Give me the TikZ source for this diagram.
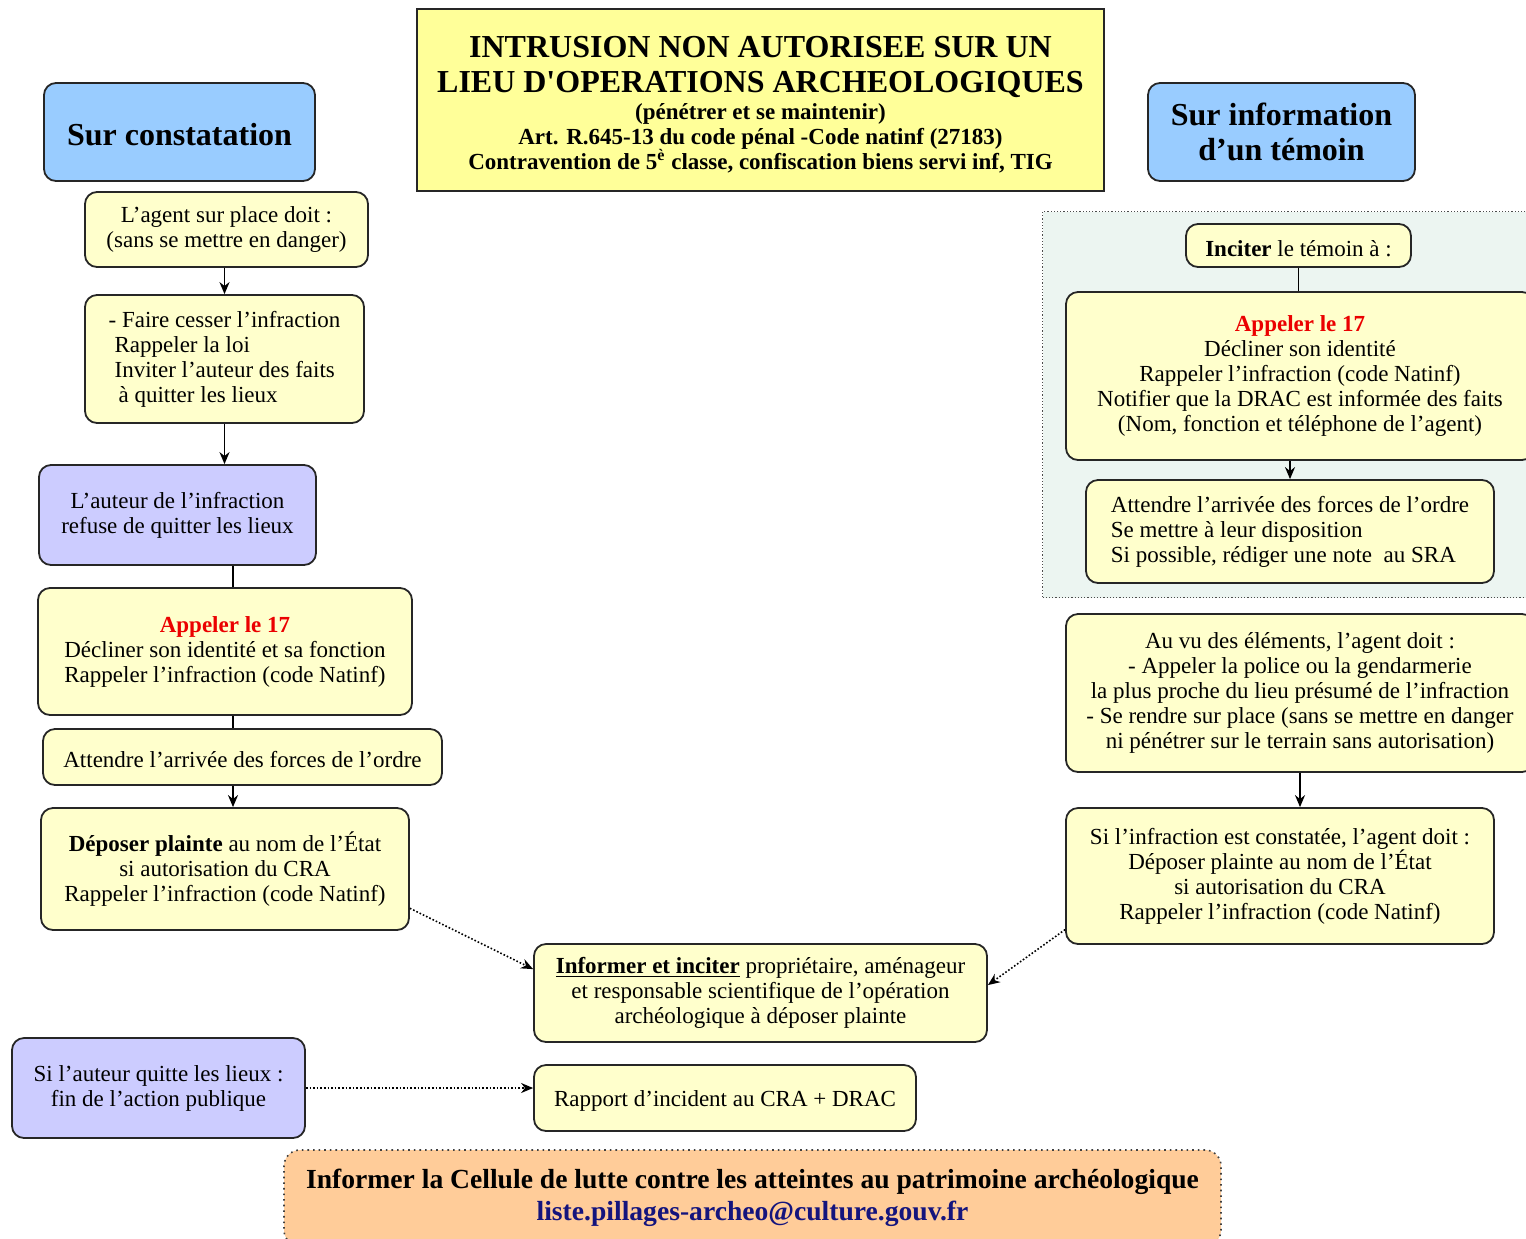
\documentclass[tikz,border=0pt]{standalone}
\usepackage{fontspec}
\setmainfont{Liberation Serif}
\newfontfamily\straightquote{Liberation Serif}
\usetikzlibrary{arrows.meta}

\definecolor{paleyellow}{RGB}{255,255,204}
\definecolor{titleyellow}{RGB}{255,255,153}
\definecolor{skyblue}{RGB}{153,204,255}
\definecolor{lavender}{RGB}{204,204,255}
\definecolor{peach}{RGB}{255,204,153}
\definecolor{mintgrey}{RGB}{236,245,241}
\definecolor{callred}{RGB}{235,0,0}
\definecolor{maildblue}{RGB}{20,20,125}

\begin{document}
\begin{tikzpicture}[x=0.5pt, y=-0.5pt,
    every node/.style={font=\fontsize{11.5}{12.5}\selectfont, align=center, inner sep=0pt,
        execute at begin node={\rule{0pt}{10.8pt}}},
    boxsize/.style 2 args={minimum width=#1*0.5pt, minimum height=#2*0.5pt},
    roundbox/.style={draw=black!85, line width=0.9pt, rounded corners=6pt},
    yellowbox/.style={roundbox, fill=paleyellow},
    bluebox/.style={roundbox, fill=skyblue, font=\fontsize{16}{17.5}\selectfont\bfseries},
    purplebox/.style={roundbox, fill=lavender},
    titlebox/.style={draw=black!85, line width=0.9pt, fill=titleyellow},
    link/.style={line width=0.9pt},
    linkarrow/.style={link, -{Stealth[length=6pt,width=5pt]}},
    dottedarrow/.style={line width=0.8pt, densely dotted, -{Stealth[length=6pt,width=5pt]}}
]
    \useasboundingbox (0,0) rectangle (1526,1238);

    \def \callline {\color{callred}\bfseries Appeler le 17}
    \def \bigtitle {\fontsize{16}{17.5}\selectfont\bfseries}

    % titre et points de depart
    \node[titlebox, boxsize={687}{182}] (title) at (760.5,100)
        {\bigtitle\rule{0pt}{15pt}INTRUSION NON AUTORISEE SUR UN\\[5pt]
         \bigtitle LIEU D{\straightquote '}OPERATIONS ARCHEOLOGIQUES\\[1pt]
         \bfseries (pénétrer et se maintenir)\\
         \bfseries Art. R.645-13 du code pénal -Code natinf (27183)\\
         \bfseries Contravention de 5\textsuperscript{è} classe, confiscation biens servi inf, TIG};
    \node[bluebox, boxsize={271}{98}] (constatation) at (179.5,132) {\rule{0pt}{14pt}Sur constatation};
    \node[bluebox, boxsize={267}{98}] (information) at (1281.5,132) {Sur information\\d’un témoin};

    % colonne de gauche
    \node[yellowbox, boxsize={283}{75}] (agent) at (226.5,229.5)
        {L’agent sur place doit :\\(sans se mettre en danger)};
    \node[yellowbox, boxsize={279}{128}, align=left] (cesser) at (224.5,359)
        {- Faire cesser l’infraction\\
         \hspace*{3pt}Rappeler la loi\\
         \hspace*{3pt}Inviter l’auteur des faits\\
         \hspace*{5pt}à quitter les lieux};
    \node[purplebox, boxsize={277}{100}] (refus) at (177.5,515)
        {L’auteur de l’infraction\\refuse de quitter les lieux};
    \node[yellowbox, boxsize={374}{127}] (appel) at (225,651.5)
        {\callline\\Décliner son identité et sa fonction\\Rappeler l’infraction (code Natinf)};
    \node[yellowbox, boxsize={399}{56}] (attente) at (242.5,757)
        {Attendre l’arrivée des forces de l’ordre};
    \node[yellowbox, boxsize={368}{122}] (plainte) at (225,869)
        {\textbf{Déposer plainte} au nom de l’État\\si autorisation du CRA\\Rappeler l’infraction (code Natinf)};
    \node[purplebox, boxsize={293}{100}] (quitte) at (158.5,1088)
        {Si l’auteur quitte les lieux :\\fin de l’action publique};

    % colonne de droite
    \node[draw=black!70, densely dotted, line width=0.6pt, fill=mintgrey, boxsize={490}{386}, anchor=north west]
        (temoinzone) at (1042,211) {};
    \node[yellowbox, boxsize={225}{43}] (inciter) at (1298.5,245.5) {\textbf{Inciter} le témoin à :};
    \node[yellowbox, boxsize={468}{168}] (appeltemoin) at (1300,376)
        {\callline\\Décliner son identité\\Rappeler l’infraction (code Natinf)\\
         Notifier que la DRAC est informée des faits\\(Nom, fonction et téléphone de l’agent)};
    \node[yellowbox, boxsize={408}{103}, align=left] (attentetemoin) at (1290,531.5)
        {Attendre l’arrivée des forces de l’ordre\\Se mettre à leur disposition\\Si possible, rédiger une note\ \ au SRA};
    \node[yellowbox, boxsize={468}{158}] (auvu) at (1300,693)
        {Au vu des éléments, l’agent doit :\\- Appeler la police ou la gendarmerie\\
         la plus proche du lieu présumé de l’infraction\\- Se rendre sur place (sans se mettre en danger\\
         ni pénétrer sur le terrain sans autorisation)};
    \node[yellowbox, boxsize={428}{136}] (constat) at (1280,876)
        {Si l’infraction est constatée, l’agent doit :\\Déposer plainte au nom de l’État\\
         si autorisation du CRA\\Rappeler l’infraction (code Natinf)};

    % bas
    \node[yellowbox, boxsize={453}{98}] (informer) at (760.5,993)
        {\textbf{\underline{Informer et inciter}} propriétaire, aménageur\\
         et responsable scientifique de l’opération\\archéologique à déposer plainte};
    \node[yellowbox, boxsize={382}{66}] (rapport) at (725,1098) {Rapport d’incident au CRA + DRAC};
    \node[draw=black!75, dotted, line width=0.8pt, rounded corners=8pt, fill=peach, boxsize={937}{96},
          font=\fontsize{13.8}{16}\selectfont\bfseries] (cellule) at (752.5,1198)
        {Informer la Cellule de lutte contre les atteintes au patrimoine archéologique\\
         \color{maildblue}liste.pillages-archeo@culture.gouv.fr};

    % liaisons
    \coordinate (axe) at (233,0);
    \draw[linkarrow] (cesser.north |- agent.south) -- (cesser.north);
    \draw[linkarrow] (cesser.south) -- (cesser.south |- refus.north);
    \draw[link] (axe |- refus.south) -- (axe |- appel.north);
    \draw[link] (axe |- appel.south) -- (axe |- attente.north);
    \draw[linkarrow] (axe |- attente.south) -- (axe |- plainte.north);
    \draw[dottedarrow] (plainte.-12) -- (informer.174);
    \draw[dottedarrow] (constat.194) -- (informer.2);
    \draw[dottedarrow] (quitte.east) -- (quitte.east -| rapport.west);

    \draw[link] (inciter.south) -- (inciter.south |- appeltemoin.north);
    \draw[linkarrow] (attentetemoin.north |- appeltemoin.south) -- (attentetemoin.north);
    \draw[linkarrow] (auvu.south) -- (auvu.south |- constat.north);
\end{tikzpicture}
\end{document}
